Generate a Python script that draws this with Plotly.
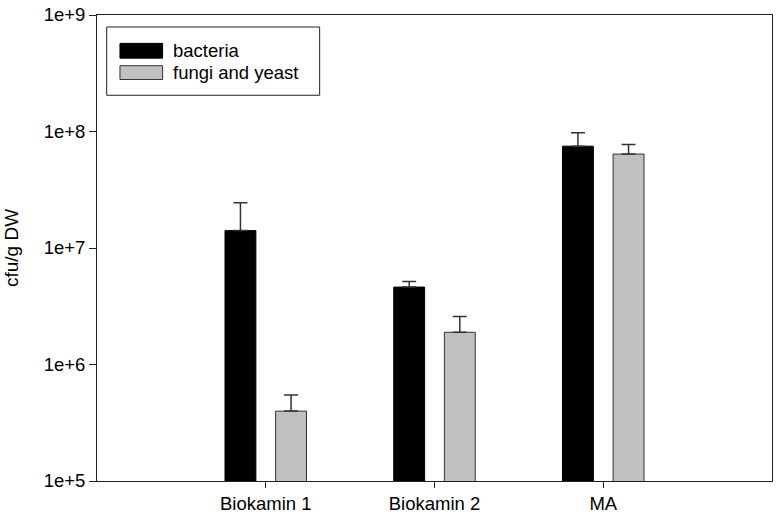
import plotly.graph_objects as go

categories = ["Biokamin 1", "Biokamin 2", "MA"]
bacteria = [1.41e7, 4.62e6, 7.48e7]
bacteria_err = [1.04e7, 0.55e6, 2.29e7]
fungi = [3.98e5, 1.89e6, 6.40e7]
fungi_err = [1.50e5, 0.69e6, 1.33e7]
series_names = ["bacteria", "fungi and yeast"]
y_tickvals = [1e5, 1e6, 1e7, 1e8, 1e9]
y_ticktext = ["1e+5", "1e+6", "1e+7", "1e+8", "1e+9"]

W, H = 777, 518
ML, MR, MT, MB = 97, 4, 9.5, 35.3
FONT = "Liberation Sans, Arial, sans-serif"
AX = "#222222"
FS = 18.5

fig = go.Figure()
fig.add_trace(go.Bar(
    x=categories, y=bacteria, name=series_names[0], showlegend=False,
    marker=dict(color="black", line=dict(color="black", width=1)),
    error_y=dict(type="data", array=bacteria_err, arrayminus=[0, 0, 0],
                 symmetric=False, color="#333333", thickness=1.5, width=7),
))
fig.add_trace(go.Bar(
    x=categories, y=fungi, name=series_names[1], showlegend=False,
    marker=dict(color="#c0c0c0", line=dict(color="#333333", width=1)),
    error_y=dict(type="data", array=fungi_err, arrayminus=[0, 0, 0],
                 symmetric=False, color="#333333", thickness=1.5, width=7),
))

pw = W - ML - MR
ph = H - MT - MB


def px(x):
    return (x - ML) / pw


def py(y):
    return (H - MB - y) / ph


shapes = [
    dict(type="rect", xref="paper", yref="paper", x0=px(106.7), x1=px(320),
         y0=py(91), y1=py(21.7), line=dict(color=AX, width=1), fillcolor="white"),
    dict(type="rect", xref="paper", yref="paper", x0=px(120), x1=px(162.7),
         y0=py(53.3), y1=py(38.3), line=dict(color="black", width=1), fillcolor="black"),
    dict(type="rect", xref="paper", yref="paper", x0=px(120), x1=px(162.7),
         y0=py(75), y1=py(61), line=dict(color="#333333", width=1), fillcolor="#c0c0c0"),
]
annotations = [
    dict(xref="paper", yref="paper", x=px(171.5), y=py(45.8), text=series_names[0],
         showarrow=False, xanchor="left", yanchor="middle",
         font=dict(family=FONT, size=FS, color="black")),
    dict(xref="paper", yref="paper", x=px(171.5), y=py(67.8), text=series_names[1],
         showarrow=False, xanchor="left", yanchor="middle",
         font=dict(family=FONT, size=FS, color="black")),
]

fig.update_layout(
    width=W, height=H,
    margin=dict(l=ML, r=MR, t=MT, b=MB, pad=0),
    paper_bgcolor="white", plot_bgcolor="white",
    barmode="group", bargap=0.4, bargroupgap=0.39,
    font=dict(family=FONT, size=FS, color="black"),
    shapes=shapes, annotations=annotations,
    xaxis=dict(
        range=[-1, 3], showgrid=False, zeroline=False,
        showline=True, linecolor=AX, linewidth=1, mirror=True,
        ticks="outside", ticklen=6, tickcolor=AX, tickwidth=1,
        tickfont=dict(family=FONT, size=FS, color="black"),
    ),
    yaxis=dict(
        type="log", range=[5, 9], showgrid=False, zeroline=False,
        showline=True, linecolor=AX, linewidth=1, mirror=True,
        ticks="outside", ticklen=7, tickcolor=AX, tickwidth=1,
        tickvals=y_tickvals, ticktext=y_ticktext,
        ticklabeloverflow="allow",
        tickfont=dict(family=FONT, size=FS, color="black"),
        title=dict(text="cfu/g DW", standoff=19,
                   font=dict(family=FONT, size=19, color="black")),
    ),
)

fig.write_html("out.html")
